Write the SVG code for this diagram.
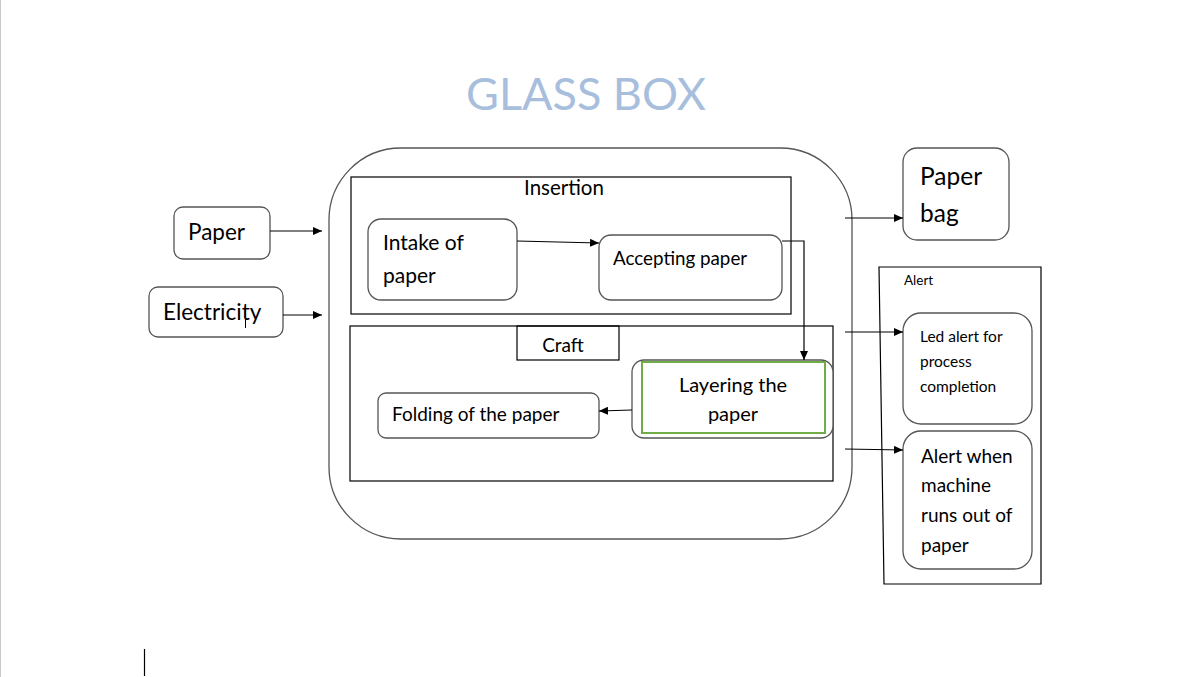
<svg xmlns="http://www.w3.org/2000/svg" width="1187" height="677" viewBox="0 0 1187 677">
<defs>
<marker id="ah" markerWidth="10" markerHeight="8" refX="9" refY="4" orient="auto" markerUnits="userSpaceOnUse">
<path d="M0,0 L9,4 L0,8 z" fill="#000"/>
</marker>
<style>
.t{font-family:Lato,"Liberation Sans",sans-serif;fill:#000}
.box{fill:#fff;stroke:#555;stroke-width:1.3}
.frame{fill:none;stroke:#000;stroke-width:1.2}
.conn{fill:none;stroke:#000;stroke-width:1.2;marker-end:url(#ah)}
</style>
</defs>
<rect width="1187" height="677" fill="#fff"/>
<line x1="0.5" y1="0" x2="0.5" y2="677" stroke="#c8c8c8" stroke-width="1"/>
<line x1="144.5" y1="649" x2="144.5" y2="676" stroke="#000" stroke-width="1.2"/>
<text x="586" y="110" text-anchor="middle" class="t" style="fill:#a7bedd;font-size:45px">GLASS BOX</text>

<g id="glassbox"><rect x="329" y="148" width="523" height="391" rx="72" class="box"/></g>

<g id="insertion">
<rect x="351" y="177" width="440" height="137" class="frame"/>
<text x="564" y="195" text-anchor="middle" class="t" style="font-size:20.5px">Insertion</text>
</g>
<g id="intake">
<rect x="368" y="219" width="149" height="81" rx="13" class="box"/>
<text x="383" y="250" class="t" style="font-size:21px">Intake of</text>
<text x="383" y="283" class="t" style="font-size:21px">paper</text>
</g>
<g id="accepting">
<rect x="599" y="235" width="183" height="65" rx="12" class="box"/>
<text x="613" y="265" class="t" style="font-size:18.8px">Accepting paper</text>
</g>

<g id="craft">
<rect x="350" y="326" width="483" height="155" class="frame"/>
<rect x="517" y="326" width="102" height="34" class="frame" fill="#fff"/>
<text x="563" y="352" text-anchor="middle" class="t" style="font-size:19px">Craft</text>
</g>
<g id="layering">
<rect x="632" y="360" width="201" height="78" rx="12" class="box"/>
<rect x="642" y="362" width="183" height="71" fill="none" stroke="#70ad47" stroke-width="2"/>
<text x="733" y="392" text-anchor="middle" class="t" style="font-size:20px">Layering the</text>
<text x="733" y="421" text-anchor="middle" class="t" style="font-size:20px">paper</text>
</g>
<g id="folding">
<rect x="378" y="393" width="221" height="45" rx="8" class="box"/>
<text x="392" y="421" class="t" style="font-size:19px">Folding of the paper</text>
</g>

<g id="paper">
<rect x="174" y="207" width="96" height="52" rx="9" class="box"/>
<text x="188" y="240" class="t" style="font-size:22.5px">Paper</text>
</g>
<g id="electricity">
<rect x="149" y="287" width="134" height="50" rx="9" class="box"/>
<text x="163" y="320" class="t" style="font-size:22.5px">Electricity</text>
<line x1="245.5" y1="305" x2="245.5" y2="328" stroke="#000" stroke-width="1"/>
</g>

<g id="paperbag">
<rect x="903" y="148" width="106" height="92" rx="14" class="box"/>
<text x="920" y="185" class="t" style="font-size:24.5px">Paper</text>
<text x="920" y="222" class="t" style="font-size:24.5px">bag</text>
</g>

<g id="alert">
<polygon points="879,267 1041,267 1041,584 884,584" class="frame"/>
<text x="904" y="285" class="t" style="font-size:13.5px">Alert</text>
</g>
<g id="led">
<rect x="903" y="313" width="129" height="111" rx="18" class="box"/>
<text x="920" y="342" class="t" style="font-size:15.5px">Led alert for</text>
<text x="920" y="367" class="t" style="font-size:15.5px">process</text>
<text x="920" y="392" class="t" style="font-size:15.5px">completion</text>
</g>
<g id="outofpaper">
<rect x="903" y="431" width="129" height="138" rx="18" class="box"/>
<text x="921" y="463" class="t" style="font-size:19px">Alert when</text>
<text x="921" y="492" class="t" style="font-size:19px">machine</text>
<text x="921" y="522" class="t" style="font-size:19px">runs out of</text>
<text x="921" y="552" class="t" style="font-size:19px">paper</text>
</g>

<g id="connectors">
<line x1="270" y1="231" x2="322" y2="231" class="conn"/>
<line x1="283" y1="315" x2="322" y2="315" class="conn"/>
<line x1="517" y1="241" x2="599" y2="243" class="conn"/>
<polyline points="782,241 804,241 804,360" class="conn"/>
<line x1="632" y1="410" x2="599" y2="411" class="conn"/>
<line x1="845" y1="218" x2="903" y2="218" class="conn"/>
<line x1="845" y1="332" x2="903" y2="332" class="conn"/>
<line x1="845" y1="449" x2="903" y2="450" class="conn"/>
</g>
</svg>
